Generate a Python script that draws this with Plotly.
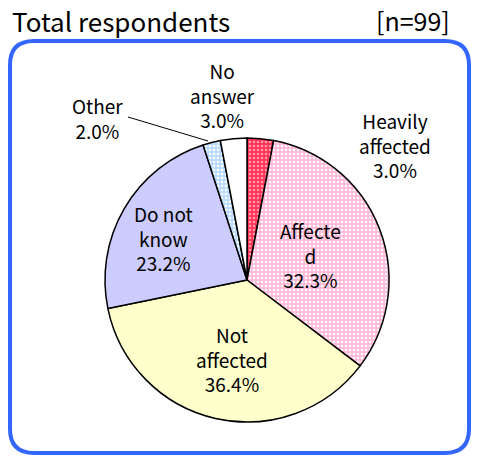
import plotly.graph_objects as go

# Dados do gráfico
labels = ["Heavily affected", "Affected", "Not affected", "Do not know", "Other", "No answer"]
text_labels = ["Heavily<br>affected", "Affecte<br>d", "Not<br>affected", "Do not<br>know", "Other", "No<br>answer"]
values = [3.0, 32.3, 36.4, 23.2, 2.0, 3.0]
colors = ["#FF3355", "#FFB8D8", "#FFFFCC", "#CCCCFF", "#B8DCFF", "#FFFFFF"]
dot_colors = ["#FF99AA", "#FFFFFF", "#FFFFCC", "#CCCCFF", "#FFFFFF", "#FFFFFF"]
title_text = "Total respondents"
n_text = "[n=99]"

W, H = 477, 456
FONT = "Noto Sans CJK JP"


def px(x, y):
    # pixels (a partir do canto superior esquerdo) -> coordenadas "paper"
    return x / W, 1 - y / H


fig = go.Figure()
fig.add_trace(go.Pie(
    labels=labels,
    values=values,
    textinfo="none",
    sort=False,
    direction="clockwise",
    rotation=0,
    marker=dict(
        colors=colors,
        line=dict(color="black", width=1.5),
        pattern=dict(
            shape=[".", ".", "", "", ".", ""],
            bgcolor=colors,
            fgcolor=dot_colors,
            size=4,
            solidity=0.35,
        ),
    ),
    domain=dict(x=[105 / W, 389 / W], y=[1 - 422 / H, 1 - 138 / H]),
    showlegend=False,
    hoverinfo="label+percent",
))

# Posição (em pixels) do centro de cada rótulo
label_pos = [(395, 145), (310, 255), (232, 359), (163, 238), (97, 118), (222, 95)]
annotations = []
for t, v, (x, y) in zip(text_labels, values, label_pos):
    ax, ay = px(x, y)
    annotations.append(dict(
        x=ax, y=ay, xref="paper", yref="paper", showarrow=False,
        xanchor="center", yanchor="middle",
        text=f"{t}<br>{v:.1f}%",
        font=dict(family=FONT, size=19, color="black"), align="center",
    ))

tx, ty = px(10, 20)
annotations.append(dict(x=tx, y=ty, xref="paper", yref="paper", xanchor="left", yanchor="middle",
                        showarrow=False, text=title_text, font=dict(family=FONT, size=26, color="black")))
nx, ny = px(452, 20)
annotations.append(dict(x=nx, y=ny, xref="paper", yref="paper", xanchor="right", yanchor="middle",
                        showarrow=False, text=n_text, font=dict(family=FONT, size=25, color="black")))

# Moldura arredondada (em pixels convertidos para paper)
x0, y0, x1, y1, r = 10, 41, 469, 453, 24
pts = lambda x, y: "{:.5f},{:.5f}".format(*px(x, y))
path = (f"M {pts(x0 + r, y0)} L {pts(x1 - r, y0)} Q {pts(x1, y0)} {pts(x1, y0 + r)} "
        f"L {pts(x1, y1 - r)} Q {pts(x1, y1)} {pts(x1 - r, y1)} L {pts(x0 + r, y1)} "
        f"Q {pts(x0, y1)} {pts(x0, y1 - r)} L {pts(x0, y0 + r)} Q {pts(x0, y0)} {pts(x0 + r, y0)} Z")

lx0, ly0 = px(128, 117)
lx1, ly1 = px(208, 141)

fig.update_layout(
    width=W, height=H,
    margin=dict(l=0, r=0, t=0, b=0),
    paper_bgcolor="white",
    plot_bgcolor="white",
    annotations=annotations,
    shapes=[
        dict(type="path", path=path, xref="paper", yref="paper",
             line=dict(color="#3366FF", width=4), layer="below"),
        # linha guia para "Other"
        dict(type="line", xref="paper", yref="paper", x0=lx0, y0=ly0, x1=lx1, y1=ly1,
             line=dict(color="black", width=1)),
    ],
)

fig.write_html("out.html", config={"displayModeBar": False},
               post_script="document.body.style.margin='0';")
